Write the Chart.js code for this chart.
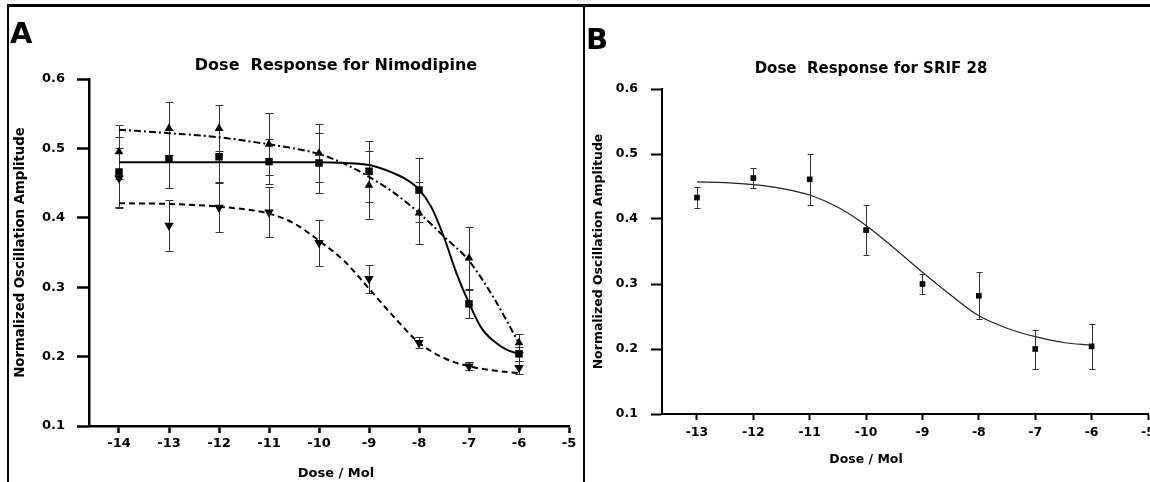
<!DOCTYPE html>
<html>
<head>
<meta charset="utf-8">
<title>Dose Response</title>
<script src="https://cdn.jsdelivr.net/npm/chart.js@4.4.1/dist/chart.umd.min.js"></script>
<style>
  html, body { margin: 0; padding: 0; background: #fff; }
  body { position: relative; width: 1150px; height: 482px; overflow: hidden;
         font-family: 'DejaVu Sans', sans-serif; font-weight: bold; color: #000; }
  canvas { position: absolute; top: 0; }
  #chartA { left: 0; }
  #chartB { left: 586px; }
  .rule { position: absolute; background: #000; }
  .txt { position: absolute; white-space: pre; line-height: 1; }
  .center { transform: translateX(-50%); }
</style>
</head>
<body>
<canvas id="chartA" width="583" height="482"></canvas>
<canvas id="chartB" width="600" height="482"></canvas>

<!-- panel frame -->
<div class="rule" style="left:7px;top:4px;width:1143px;height:3px"></div>
<div class="rule" style="left:7px;top:4px;width:2px;height:478px"></div>
<div class="rule" style="left:583px;top:4px;width:2px;height:478px"></div>

<!-- panel letters, titles, x titles -->
<div class="txt" style="left:10px;top:19px;font-size:29px">A</div>
<div class="txt" style="left:586px;top:25px;font-size:29px">B</div>
<div class="txt center" style="left:336px;top:57px;font-size:16px">Dose  Response for Nimodipine</div>
<div class="txt center" style="left:871px;top:61px;font-size:15px">Dose  Response for SRIF 28</div>
<div class="txt center" style="left:336px;top:466px;font-size:13px">Dose / Mol</div>
<div class="txt center" style="left:866px;top:453px;font-size:12.5px">Dose / Mol</div>

<script>
// --- panel A: Nimodipine ---
const doseA = [-14, -13, -12, -11, -10, -9, -8, -7, -6];
const squareA = [0.466, 0.485, 0.488, 0.481, 0.479, 0.467, 0.440, 0.276, 0.204];
const squareErrA = [0.050, 0.042, 0.038, 0.033, 0.043, 0.044, 0.046, 0.020, 0.010];
const upA = [0.495, 0.529, 0.529, 0.506, 0.493, 0.447, 0.407, 0.342, 0.220];
const upErrA = [0.039, 0.038, 0.033, 0.045, 0.042, 0.049, 0.045, 0.045, 0.013];
const downA = [0.457, 0.389, 0.415, 0.408, 0.364, 0.312, 0.220, 0.186, 0.184];
const downErrA = [0.043, 0.037, 0.036, 0.036, 0.033, 0.020, 0.008, 0.006, 0.009];

// fitted curves
const solidFitX = [-14, -13, -12, -11, -10, -9.5, -9, -8.75, -8.5, -8.25, -8, -7.75, -7.5, -7.25, -7, -6.75, -6.5, -6.25, -6];
const solidFitY = [0.480, 0.480, 0.480, 0.480, 0.480, 0.479, 0.476, 0.471, 0.464, 0.455, 0.441, 0.415, 0.372, 0.320, 0.277, 0.241, 0.222, 0.210, 0.204];
const dashDotFitX = [-14, -13, -12, -11, -10.5, -10, -9.5, -9, -8.5, -8, -7.5, -7, -6.5, -6];
const dashDotFitY = [0.527, 0.522, 0.516, 0.506, 0.500, 0.492, 0.478, 0.459, 0.436, 0.407, 0.373, 0.338, 0.284, 0.219];
const dashFitX = [-14, -13, -12, -11, -10.5, -10, -9.5, -9, -8.5, -8, -7.5, -7, -6.5, -6];
const dashFitY = [0.421, 0.420, 0.416, 0.406, 0.392, 0.367, 0.338, 0.298, 0.257, 0.220, 0.198, 0.186, 0.180, 0.176];

// --- panel B: SRIF 28 ---
const doseB = [-13, -12, -11, -10, -9, -8, -7, -6];
const srifB = [0.433, 0.463, 0.461, 0.383, 0.300, 0.282, 0.200, 0.204];
const srifErrB = [0.016, 0.015, 0.039, 0.038, 0.016, 0.036, 0.030, 0.035];
const srifFitX = [-13, -12.5, -12, -11.5, -11, -10.5, -10, -9.5, -9, -8.5, -8, -7.5, -7, -6.5, -6];
const srifFitY = [0.457, 0.456, 0.453, 0.447, 0.437, 0.418, 0.390, 0.355, 0.318, 0.283, 0.251, 0.232, 0.219, 0.210, 0.206];

// axis ticks
const doseTicksA = [-14, -13, -12, -11, -10, -9, -8, -7, -6, -5];
const doseTicksB = [-13, -12, -11, -10, -9, -8, -7, -6, -5];
const ampTicks = [0.1, 0.2, 0.3, 0.4, 0.5, 0.6];

Chart.defaults.font.family = "'DejaVu Sans', sans-serif";
Chart.defaults.font.weight = 'bold';
Chart.defaults.color = '#000';

const pts = (xs, ys) => xs.map((x, i) => ({ x: x, y: ys[i] }));

// vertical error bars with caps, drawn under the markers
const errorBars = {
    id: 'errorBars',
    beforeDatasetsDraw(chart, args, opts) {
        const ctx = chart.ctx;
        const xs = chart.scales.x, ys = chart.scales.y;
        ctx.save();
        ctx.strokeStyle = opts.color || '#333';
        ctx.lineWidth = opts.width || 1;
        chart.data.datasets.forEach(ds => {
            if (!ds.errors) return;
            ds.data.forEach((p, i) => {
                const e = ds.errors[i];
                const px = Math.round(xs.getPixelForValue(p.x)) + 0.5;
                const top = Math.round(ys.getPixelForValue(p.y + e)) + 0.5;
                const bot = Math.round(ys.getPixelForValue(p.y - e)) + 0.5;
                const c = opts.cap || 4;
                ctx.beginPath();
                ctx.moveTo(px, top); ctx.lineTo(px, bot);
                ctx.moveTo(px - c, top); ctx.lineTo(px + c, top);
                ctx.moveTo(px - c, bot); ctx.lineTo(px + c, bot);
                ctx.stroke();
            });
        });
        ctx.restore();
    }
};

function makeScales(cfg) {
    return {
        x: {
            type: 'linear',
            min: cfg.xMin, max: cfg.xMax,
            afterBuildTicks: s => { s.ticks = cfg.xTicks.map(v => ({ value: v })); },
            afterFit: s => { s.height = cfg.xHeight; },
            ticks: {
                autoSkip: false, maxRotation: 0,
                padding: cfg.xPad,
                font: { size: cfg.tickSize, weight: 'bold' },
                callback: v => String(v)
            },
            grid: {
                drawOnChartArea: false, drawTicks: true,
                tickLength: cfg.xTickLen, tickWidth: cfg.lw, tickColor: '#000'
            },
            border: { display: true, width: cfg.lw, color: '#000' }
        },
        y: {
            type: 'linear',
            min: 0.1, max: 0.6,
            afterBuildTicks: s => { s.ticks = ampTicks.map(v => ({ value: v })); },
            afterFit: s => { s.width = cfg.yWidth; },
            ticks: {
                padding: cfg.yPad,
                font: { size: cfg.tickSize, weight: 'bold' },
                callback: v => v.toFixed(1)
            },
            grid: {
                drawOnChartArea: false, drawTicks: true,
                tickLength: cfg.yTickLen, tickWidth: cfg.lw, tickColor: '#000'
            },
            border: { display: true, width: cfg.lw, color: '#000' },
            title: {
                display: true,
                text: 'Normalized Oscillation Amplitude',
                font: { size: cfg.yTitleSize, weight: 'bold' },
                padding: { top: cfg.yTitlePad, bottom: 0 }
            }
        }
    };
}

const baseOptions = {
    responsive: false,
    animation: false,
    devicePixelRatio: 1,
    plugins: { legend: { display: false }, tooltip: { enabled: false } }
};

// panel A
new Chart(document.getElementById('chartA'), {
    type: 'scatter',
    data: {
        datasets: [
            { data: pts(solidFitX, solidFitY), showLine: true, pointRadius: 0,
              borderColor: '#000', borderWidth: 2, cubicInterpolationMode: 'monotone' },
            { data: pts(dashDotFitX, dashDotFitY), showLine: true, pointRadius: 0,
              borderColor: '#000', borderWidth: 2, borderDash: [7, 3, 2, 3], cubicInterpolationMode: 'monotone' },
            { data: pts(dashFitX, dashFitY), showLine: true, pointRadius: 0,
              borderColor: '#000', borderWidth: 2, borderDash: [6, 4], cubicInterpolationMode: 'monotone' },
            { data: pts(doseA, squareA), errors: squareErrA, pointStyle: 'rect', pointRadius: 5.3,
              backgroundColor: '#000', borderColor: '#000', borderWidth: 0 },
            { data: pts(doseA, upA), errors: upErrA, pointStyle: 'triangle', pointRadius: 5,
              backgroundColor: '#000', borderColor: '#000', borderWidth: 0 },
            { data: pts(doseA, downA), errors: downErrA, pointStyle: 'triangle', rotation: 180, pointRadius: 5.5,
              backgroundColor: '#000', borderColor: '#000', borderWidth: 0 }
        ]
    },
    options: Object.assign({}, baseOptions, {
        layout: { padding: { left: 0, right: 14, top: 79, bottom: 0 } },
        scales: makeScales({
            xMin: -14.6, xMax: -5, xTicks: doseTicksA, xHeight: 56, xPad: 3, xTickLen: 7,
            yWidth: 89, yPad: 12, yTickLen: 12, tickSize: 13, lw: 2.5,
            yTitleSize: 13.3, yTitlePad: 13
        }),
        plugins: Object.assign({}, baseOptions.plugins, {
            errorBars: { color: '#333', width: 1, cap: 4 }
        })
    }),
    plugins: [errorBars]
});

// panel B
new Chart(document.getElementById('chartB'), {
    type: 'scatter',
    data: {
        datasets: [
            { data: pts(srifFitX, srifFitY), showLine: true, pointRadius: 0,
              borderColor: '#222', borderWidth: 1.2, cubicInterpolationMode: 'monotone' },
            { data: pts(doseB, srifB), errors: srifErrB, pointStyle: 'rect', pointRadius: 4,
              backgroundColor: '#000', borderColor: '#000', borderWidth: 0 }
        ]
    },
    options: Object.assign({}, baseOptions, {
        layout: { padding: { left: 0, right: 38, top: 89, bottom: 0 } },
        scales: makeScales({
            xMin: -13.62, xMax: -5, xTicks: doseTicksB, xHeight: 68, xPad: 5, xTickLen: 6,
            yWidth: 76, yPad: 13, yTickLen: 11, tickSize: 12.5, lw: 2,
            yTitleSize: 12.5, yTitlePad: 5
        }),
        plugins: Object.assign({}, baseOptions.plugins, {
            errorBars: { color: '#333', width: 1, cap: 3 }
        })
    }),
    plugins: [errorBars]
});
</script>
</body>
</html>
